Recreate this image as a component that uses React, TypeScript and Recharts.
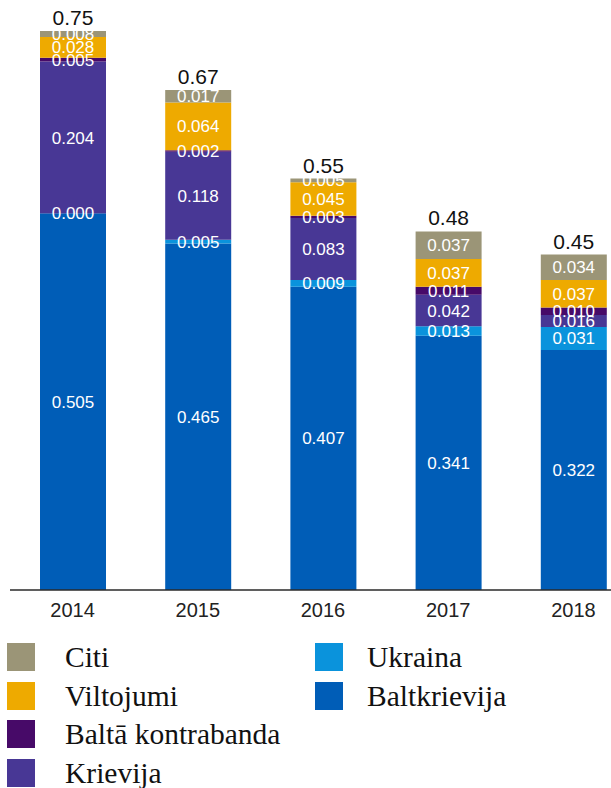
import React from "react";
import { BarChart, Bar, XAxis, YAxis, LabelList } from "recharts";

const years = ["2014", "2015", "2016", "2017", "2018"];
const baltkrievija = [0.505, 0.465, 0.407, 0.341, 0.322];
const ukraina = [0.0, 0.005, 0.009, 0.013, 0.031];
const krievija = [0.204, 0.118, 0.083, 0.042, 0.016];
const baltaKontrabanda = [0.005, 0.002, 0.003, 0.011, 0.01];
const viltojumi = [0.028, 0.064, 0.045, 0.037, 0.037];
const citi = [0.008, 0.017, 0.005, 0.037, 0.034];
const totals = ["0.75", "0.67", "0.55", "0.48", "0.45"];

// stacking order, bottom first
const series = [
  { key: "baltkrievija", name: "Baltkrievija", color: "#005db7", values: baltkrievija },
  { key: "ukraina", name: "Ukraina", color: "#0a93dc", values: ukraina },
  { key: "krievija", name: "Krievija", color: "#483795", values: krievija },
  { key: "balta", name: "Baltā kontrabanda", color: "#470a68", values: baltaKontrabanda },
  { key: "viltojumi", name: "Viltojumi", color: "#eeaa00", values: viltojumi },
  { key: "citi", name: "Citi", color: "#9b9577", values: citi },
];

const data = years.map((year, i) => {
  const row: Record<string, string | number> = { year, total: totals[i] };
  series.forEach((s) => {
    row[s.key] = s.values[i];
  });
  return row;
});

const legendCols = [
  ["citi", "viltojumi", "balta", "krievija"],
  ["ukraina", "baltkrievija"],
];

const fmt = (v: any) => Number(v).toFixed(3);

export default function App() {
  return (
    <div
      style={{
        position: "absolute",
        left: 0,
        top: 0,
        width: 611,
        height: 788,
        overflow: "hidden",
        background: "#fff",
      }}
    >
      <BarChart
        width={640}
        height={630}
        data={data}
        margin={{ top: 31, right: 4, bottom: 10, left: 10 }}
        barSize={66}
      >
        <XAxis
          xAxisId="grid"
          type="number"
          domain={[0, 5]}
          ticks={[0, 1, 2, 3, 4, 5]}
          tick={false}
          axisLine={false}
          tickLine={{ stroke: "#dcdcdc" }}
          tickSize={10}
          height={0}
        />
        <XAxis
          dataKey="year"
          height={30}
          axisLine={{ stroke: "#2a2a2a", strokeWidth: 1.5 }}
          tickLine={false}
          tickMargin={7}
          tick={{ fill: "#222", fontSize: 20, fontFamily: "Liberation Sans, Arial, sans-serif" }}
        />
        <YAxis hide domain={[0, 0.75]} allowDataOverflow />
        {series.map((s, idx) => (
          <Bar
            key={s.key}
            dataKey={s.key}
            stackId="a"
            fill={s.color}
            minPointSize={s.key === "ukraina" ? 2 : 0}
            isAnimationActive={false}
          >
            <LabelList
              dataKey={s.key}
              position="center"
              formatter={fmt}
              fill="#fff"
              fontSize={17}
              fontFamily="Liberation Sans, Arial, sans-serif"
            />
            {idx === series.length - 1 && (
              <LabelList
                dataKey="total"
                position="top"
                offset={6}
                fill="#111"
                fontSize={21}
                fontFamily="Liberation Sans, Arial, sans-serif"
              />
            )}
          </Bar>
        ))}
      </BarChart>
      {legendCols.map((col, c) => (
        <div
          key={c}
          style={{ position: "absolute", left: c === 0 ? 7 : 315, top: 638 }}
        >
          {col.map((k) => {
            const s = series.find((x) => x.key === k)!;
            return (
              <div
                key={k}
                style={{ display: "flex", alignItems: "center", height: 38.5 }}
              >
                <div style={{ width: 28, height: 28, background: s.color, flex: "none" }} />
                <span
                  style={{
                    marginLeft: c === 0 ? 30 : 24,
                    fontFamily: "Liberation Serif, serif",
                    fontSize: 29.5,
                    color: "#111",
                    lineHeight: "30px",
                    whiteSpace: "nowrap",
                  }}
                >
                  {s.name}
                </span>
              </div>
            );
          })}
        </div>
      ))}
    </div>
  );
}
